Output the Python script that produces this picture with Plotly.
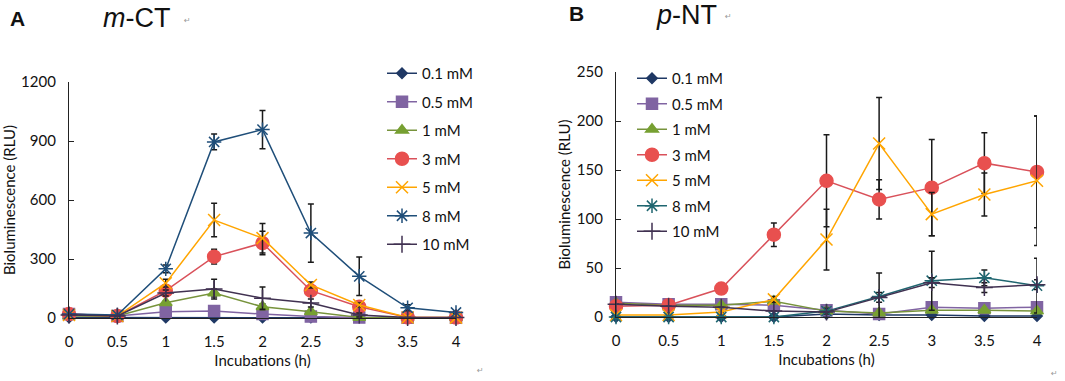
import plotly.graph_objects as go

x_vals = [0, 0.5, 1, 1.5, 2, 2.5, 3, 3.5, 4]
x_ticks = ["0", "0.5", "1", "1.5", "2", "2.5", "3", "3.5", "4"]
series_names = ["0.1 mM", "0.5 mM", "1 mM", "3 mM", "5 mM", "8 mM", "10 mM"]

# Panel A: m-CT
a_01 = [2, 2, 2, 2, 2, 2, 2, 1, 1]
a_05 = [20, 10, 32, 35, 20, 7, 2, 1, 1]
a_1 = [10, 10, 78, 127, 57, 32, 3, 1, 1]
a_3 = [20, 10, 139, 312, 381, 139, 57, 3, 2]
a_5 = [15, 10, 177, 498, 406, 168, 66, 3, 2]
a_8 = [20, 15, 250, 895, 958, 432, 212, 52, 28]
a_10 = [15, 10, 127, 147, 101, 76, 15, 2, 2]
a_err_3 = [0, 0, 20, 38, 60, 15, 10, 0, 0]
a_err_5 = [0, 0, 20, 85, 75, 15, 10, 0, 0]
a_err_8 = [0, 0, 20, 40, 97, 148, 98, 15, 5]
a_err_10 = [0, 0, 15, 50, 57, 20, 10, 0, 0]
a_err_1 = [0, 0, 10, 20, 15, 10, 5, 0, 0]

# Panel B: p-NT
b_01 = [0, 0, 0, 0, 3, 2, 2, 1, 1]
b_05 = [15, 13, 13, 12, 7, 3, 10, 9, 10]
b_1 = [14, 12, 12, 16, 6, 4, 7, 7, 6]
b_3 = [11, 12, 29, 84, 139, 120, 132, 157, 148]
b_5 = [2, 2, 5, 18, 79, 177, 105, 125, 139]
b_8 = [0, 0, 0, 0, 6, 21, 37, 40, 32]
b_10 = [13, 11, 10, 6, 5, 20, 35, 30, 33]
b_err_3 = [0, 0, 0, 12, 47, 20, 49, 31, 57]
b_err_5 = [0, 0, 0, 3, 31, 47, 22, 22, 66]
b_err_8 = [0, 0, 0, 0, 3, 24, 30, 8, 28]
b_err_10 = [0, 0, 0, 0, 0, 5, 5, 5, 5]

line_colors = ["#1F3864", "#8064A2", "#77933C", "#D9515A", "#FFA500", "#1F4E79", "#403151"]
b_line_colors = ["#1F3864", "#8064A2", "#77933C", "#D9515A", "#FFA500", "#1F6670", "#403151"]
marker_colors = ["#1F3864", "#8064A2", "#77A032", "#E8504F", "#FFA500", "#1F4E79", "#403151"]
b_marker_colors = ["#1F3864", "#8064A2", "#77A032", "#E8504F", "#FFA500", "#1F6670", "#403151"]
symbols = ["diamond", "square", "triangle-up", "circle", "x-thin-open", "asterisk-open", "cross-thin-open"]
sizes = [8, 11, 11, 13, 12, 12, 12]

fig = go.Figure()

a_data = [a_01, a_05, a_1, a_3, a_5, a_8, a_10]
a_errs = [None, None, a_err_1, a_err_3, a_err_5, a_err_8, a_err_10]
b_data = [b_01, b_05, b_1, b_3, b_5, b_8, b_10]
b_errs = [None, None, None, b_err_3, b_err_5, b_err_8, b_err_10]

def add_panel(data, errs, lcols, mcols, xa, ya, leg, grp):
    for i, name in enumerate(series_names):
        err = None
        if errs[i] is not None:
            err = dict(type="data", array=errs[i], visible=True, color="#1a1a1a",
                       thickness=1.5, width=3)
        fig.add_trace(go.Scatter(
            x=x_vals, y=data[i], name=name, mode="lines+markers",
            xaxis=xa, yaxis=ya, legend=leg, legendgroup=grp + str(i),
            line=dict(color=lcols[i], width=1.5),
            marker=dict(symbol=symbols[i], size=sizes[i], color=mcols[i],
                        line=dict(color=mcols[i], width=1.5)),
            error_y=err, cliponaxis=False,
        ))

add_panel(a_data, a_errs, line_colors, marker_colors, "x", "y", "legend", "a")
add_panel(b_data, b_errs, b_line_colors, b_marker_colors, "x2", "y2", "legend2", "b")

W, H = 1065, 381
def px(v):
    return v / W
def py(v):
    return 1 - v / H

FONT = "Lato, Noto Sans, sans-serif"
tick_font = dict(family=FONT, size=15, color="#111111")
title_font = dict(family=FONT, size=15, color="#111111")

xcommon = dict(range=[0, 4], tickvals=x_vals, ticktext=x_ticks, showgrid=False, zeroline=False,
               showline=True, linecolor="#222222", linewidth=1, ticks="", tickfont=tick_font,
               ticklabelstandoff=10, title=dict(text="Incubations (h)", font=title_font, standoff=6))
ycommon = dict(showgrid=False, zeroline=False, showline=True, linecolor="#222222", linewidth=1.2,
               ticks="inside", ticklen=5, tickcolor="#222222", tickfont=tick_font,
               ticklabelstandoff=9,
               title=dict(text="Bioluminescence (RLU)", font=title_font, standoff=2))

fig.update_layout(
    width=W, height=H, margin=dict(l=0, r=0, t=0, b=0, autoexpand=False),
    paper_bgcolor="white", plot_bgcolor="white",
    xaxis=dict(domain=[px(69), px(456)], anchor="y", **xcommon),
    yaxis=dict(domain=[py(318), py(82)], anchor="x", range=[0, 1200],
               tickvals=[0, 300, 600, 900, 1200], **ycommon),
    xaxis2=dict(domain=[px(616), px(1037)], anchor="y2", **xcommon),
    yaxis2=dict(domain=[py(317), py(72)], anchor="x2", range=[0, 250],
                tickvals=[0, 50, 100, 150, 200, 250], **ycommon),
    legend=dict(x=px(382), y=py(57), xanchor="left", yanchor="top", bgcolor="rgba(0,0,0,0)",
                font=dict(family=FONT, size=15, color="#111111"),
                tracegroupgap=6, itemwidth=30),
    legend2=dict(x=px(632), y=py(62), xanchor="left", yanchor="top", bgcolor="rgba(0,0,0,0)",
                 font=dict(family=FONT, size=15, color="#111111"),
                 tracegroupgap=3, itemwidth=30),
    showlegend=True,
)

ann = [
    dict(text="<b>A</b>", x=px(8), y=py(18), xanchor="left", yanchor="middle",
         font=dict(family="Liberation Sans, Arial", size=21, color="#111111")),
    dict(text="<i>m</i>-CT", x=px(101), y=py(18), xanchor="left", yanchor="middle",
         font=dict(family="Liberation Sans, Arial", size=27, color="#111111")),
    dict(text="↵", x=px(182), y=py(20), xanchor="left", yanchor="middle",
         font=dict(family="DejaVu Sans", size=8, color="#999999")),
    dict(text="<b>B</b>", x=px(567), y=py(13), xanchor="left", yanchor="middle",
         font=dict(family="Liberation Sans, Arial", size=21, color="#111111")),
    dict(text="<i>p</i>-NT", x=px(654), y=py(15), xanchor="left", yanchor="middle",
         font=dict(family="Liberation Sans, Arial", size=27, color="#111111")),
    dict(text="↵", x=px(723), y=py(17), xanchor="left", yanchor="middle",
         font=dict(family="DejaVu Sans", size=8, color="#999999")),
    dict(text="↵", x=px(475), y=py(370), xanchor="left", yanchor="middle",
         font=dict(family="DejaVu Sans", size=8, color="#999999")),
    dict(text="↵", x=px(1049), y=py(373), xanchor="left", yanchor="middle",
         font=dict(family="DejaVu Sans", size=8, color="#999999")),
]
for a in ann:
    a.update(xref="paper", yref="paper", showarrow=False)
fig.update_layout(annotations=ann)

fig.write_html("out.html", config={"displayModeBar": False},
               post_script="document.body.style.margin='0';")
